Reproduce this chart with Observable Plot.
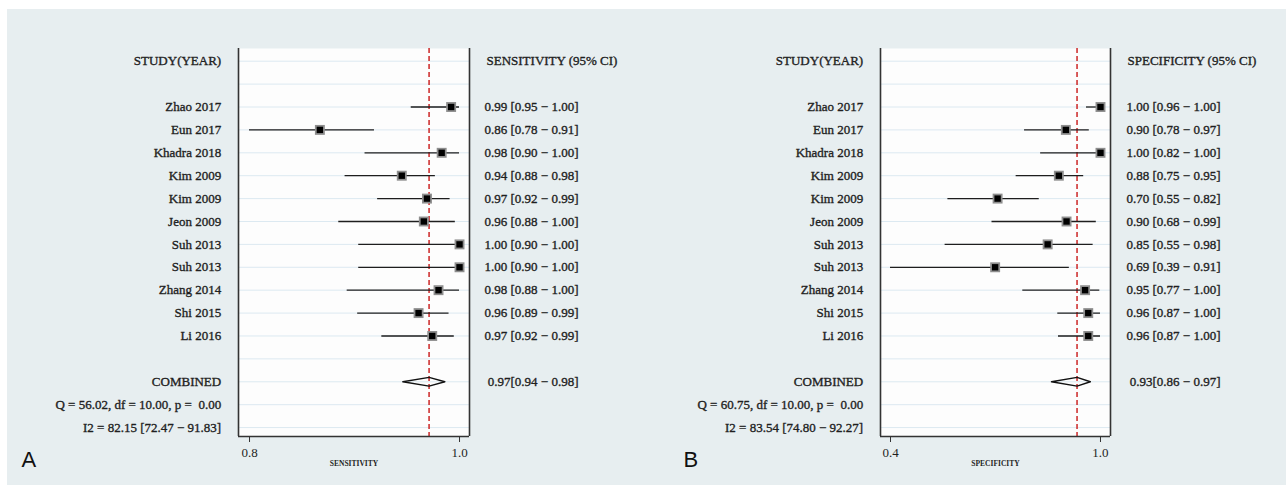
<!DOCTYPE html>
<html>
<head>
<meta charset="utf-8">
<script src="https://cdn.jsdelivr.net/npm/d3@7"></script>
<script src="https://cdn.jsdelivr.net/npm/@observablehq/plot@0.6"></script>
<style>
  html, body { margin: 0; padding: 0; background: #ffffff; }
  #page { position: relative; width: 1286px; height: 487px; overflow: hidden; background: #ffffff; }
  #bg { position: absolute; left: 7px; top: 9px; width: 1279px; height: 476px; background: #e7eef0; }
  .panel { position: absolute; top: 0; }
  .panel svg { overflow: visible; }
</style>
</head>
<body>
<div id="page">
  <div id="bg"></div>
  <div id="panelA" class="panel" style="left:0px"></div>
  <div id="panelB" class="panel" style="left:640px"></div>
</div>
<script>
// ---- data ----
const studies = ["Zhao 2017","Eun 2017","Khadra 2018","Kim 2009","Kim 2009","Jeon 2009","Suh 2013","Suh 2013","Zhang 2014","Shi 2015","Li 2016"];

const sensEst = [0.992,0.867,0.983,0.945,0.969,0.966,1.000,1.000,0.980,0.961,0.974];
const sensLo  = [0.954,0.800,0.910,0.891,0.922,0.885,0.904,0.904,0.893,0.903,0.926];
const sensHi  = [1.000,0.919,1.000,0.977,0.991,0.996,1.000,1.000,1.000,0.990,0.995];
const sensText = ["0.99 [0.95 − 1.00]","0.86 [0.78 − 0.91]","0.98 [0.90 − 1.00]","0.94 [0.88 − 0.98]","0.97 [0.92 − 0.99]","0.96 [0.88 − 1.00]","1.00 [0.90 − 1.00]","1.00 [0.90 − 1.00]","0.98 [0.88 − 1.00]","0.96 [0.89 − 0.99]","0.97 [0.92 − 0.99]"];
const sensCombined = [0.946, 0.971, 0.986]; // lo, est, hi
const sensCombinedText = "0.97[0.94 − 0.98]";
const sensStats = ["Q = 56.02, df = 10.00, p =  0.00", "I2 = 82.15 [72.47 − 91.83]"];
const sensTicks = [0.8, 1.0];

const specEst = [1.000,0.901,1.000,0.881,0.706,0.903,0.849,0.699,0.956,0.965,0.965];
const specLo  = [0.960,0.783,0.829,0.759,0.564,0.690,0.556,0.400,0.778,0.878,0.880];
const specHi  = [1.000,0.968,1.000,0.952,0.825,0.988,0.979,0.911,0.998,1.000,1.000];
const specText = ["1.00 [0.96 − 1.00]","0.90 [0.78 − 0.97]","1.00 [0.82 − 1.00]","0.88 [0.75 − 0.95]","0.70 [0.55 − 0.82]","0.90 [0.68 − 0.99]","0.85 [0.55 − 0.98]","0.69 [0.39 − 0.91]","0.95 [0.77 − 1.00]","0.96 [0.87 − 1.00]","0.96 [0.87 − 1.00]"];
const specCombined = [0.860, 0.933, 0.971];
const specCombinedText = "0.93[0.86 − 0.97]";
const specStats = ["Q = 60.75, df = 10.00, p =  0.00", "I2 = 83.54 [74.80 − 92.27]"];
const specTicks = [0.4, 1.0];

// ---- drawing ----
const SERIF = "'Liberation Serif', 'Times New Roman', serif";
const TXT = "#1f1f1f";
const halo = {stroke: TXT, strokeWidth: 0.35};

function panel(cfg) {
  const firstRow = 2;
  const combinedRow = firstRow + studies.length + 1;
  const rowsData = studies.map((s, i) => ({
    row: firstRow + i, name: s, est: cfg.est[i], lo: cfg.lo[i], hi: cfg.hi[i], label: cfg.text[i]
  }));
  const allRows = d3.range(0, combinedRow + 3);
  const leftLabels = [
    {row: 0, t: "STUDY(YEAR)"},
    ...rowsData.map(d => ({row: d.row, t: d.name})),
    {row: combinedRow, t: "COMBINED"},
    {row: combinedRow + 1, t: cfg.stats[0]},
    {row: combinedRow + 2, t: cfg.stats[1]}
  ];
  const rightLabels = [
    ...rowsData.map(d => ({row: d.row, t: d.label})),
    {row: combinedRow, t: cfg.combinedText}
  ];
  const [cLo, cEst, cHi] = cfg.combined;
  const h = 0.19;
  const diamond = [
    {x: cLo, y: combinedRow}, {x: cEst, y: combinedRow - h},
    {x: cHi, y: combinedRow}, {x: cEst, y: combinedRow + h}, {x: cLo, y: combinedRow}
  ];
  const yDomain = [-0.555, combinedRow + 2 + 0.39];

  return Plot.plot({
    width: cfg.width,
    height: 487,
    marginLeft: cfg.marginLeft,
    marginRight: cfg.marginRight,
    marginTop: 48,
    marginBottom: 51,
    style: {fontFamily: SERIF, fontSize: "13px", color: TXT, background: "transparent", overflow: "visible"},
    x: {domain: cfg.xDomain, label: null},
    y: {domain: yDomain, reverse: true, axis: null},
    marks: [
      Plot.frame({fill: "#fdfdfd", stroke: "none"}),
      Plot.ruleY(allRows, {y: d => d, stroke: "#dce9f1", strokeWidth: 1}),
      Plot.ruleX([cEst], {stroke: "#cf3434", strokeWidth: 1.6, strokeDasharray: "5,3"}),
      Plot.ruleY(rowsData, {y: "row", x1: "lo", x2: "hi", stroke: "#1e1e1e", strokeWidth: 1.3}),
      Plot.dot(rowsData, {x: "est", y: "row", symbol: "square", r: 5.6, fill: "#8e8e8e", stroke: "none"}),
      Plot.dot(rowsData, {x: "est", y: "row", symbol: "square", r: 3.6, fill: "#000", stroke: "none"}),
      Plot.line(diamond, {x: "x", y: "y", stroke: "#111", strokeWidth: 1.4}),
      Plot.ruleX(cfg.xDomain, {stroke: "#333", strokeWidth: 1.6}),
      Plot.ruleY([yDomain[1]], {stroke: "#333", strokeWidth: 1.6}),
      Plot.axisX({ticks: cfg.ticks, tickFormat: d3.format(".1f"), tickSize: 6, tickPadding: 5,
                  label: null, fontSize: 13, stroke: "#333", fill: TXT}),
      Plot.text([cfg.axisLabel], {frameAnchor: "bottom", dy: 29, fontSize: 7.5, fontWeight: "bold", fill: TXT}),
      Plot.text(leftLabels, {y: "row", text: "t", frameAnchor: "left", dx: -17.3, textAnchor: "end", fill: TXT, fontSize: 13, ...halo}),
      Plot.text(rightLabels, {y: "row", text: "t", frameAnchor: "right", dx: cfg.valueDx, textAnchor: "end", fill: TXT, fontSize: 13, ...halo}),
      Plot.text([{row: 0, t: cfg.header}], {y: "row", text: "t", frameAnchor: "right", dx: 17, textAnchor: "start", fill: TXT, fontSize: 13, ...halo}),
      Plot.text([cfg.letter], {frameAnchor: "bottom-left", dx: cfg.letterDx, dy: 30, textAnchor: "start",
                               fontSize: 22, fontFamily: "'Liberation Sans', Arial, sans-serif", fill: "#111"})
    ]
  });
}

document.getElementById("panelA").appendChild(panel({
  width: 640, marginLeft: 238, marginRight: 171,
  xDomain: [0.7895, 1.0095], ticks: sensTicks,
  est: sensEst, lo: sensLo, hi: sensHi, text: sensText,
  combined: sensCombined, combinedText: sensCombinedText, stats: sensStats,
  header: "SENSITIVITY (95% CI)", axisLabel: "SENSITIVITY",
  valueDx: 109, letter: "A", letterDx: 21 - 238
}));

document.getElementById("panelB").appendChild(panel({
  width: 646, marginLeft: 240, marginRight: 176,
  xDomain: [0.3714, 1.0286], ticks: specTicks,
  est: specEst, lo: specLo, hi: specHi, text: specText,
  combined: specCombined, combinedText: specCombinedText, stats: specStats,
  header: "SPECIFICITY (95% CI)", axisLabel: "SPECIFICITY",
  valueDx: 110, letter: "B", letterDx: 683 - 880
}));
</script>
</body>
</html>
